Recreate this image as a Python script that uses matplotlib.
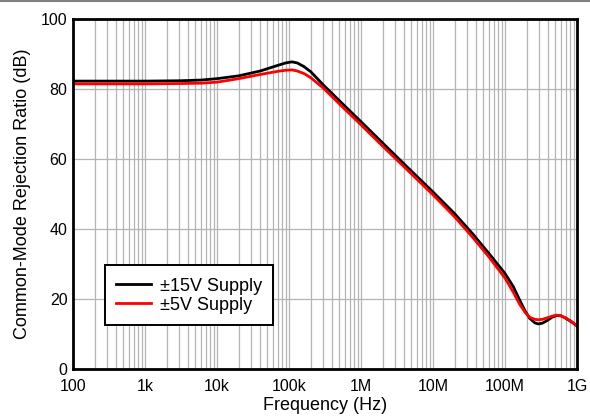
import matplotlib.pyplot as plt
from matplotlib.lines import Line2D
from matplotlib.ticker import FixedLocator, LogLocator, NullFormatter

plt.rcParams['font.family'] = ['Liberation Sans', 'DejaVu Sans']

# CMRR data (frequency in Hz, CMRR in dB)
freq_15v = [1e2, 1e3, 3e3, 6e3, 1e4, 2e4, 4e4, 7e4, 9e4, 1.1e5, 1.3e5, 1.6e5, 2e5, 3e5, 5e5,
            1e6, 2e6, 5e6, 1e7, 2e7, 3.5e7, 6e7, 1e8, 1.3e8, 1.6e8, 1.9e8, 2.2e8,
            2.6e8, 2.9e8, 3.3e8, 3.8e8, 4.5e8, 5.2e8, 6e8, 7e8, 8.5e8, 1e9]
cmrr_15v = [82.3, 82.3, 82.4, 82.6, 83.0, 83.8, 85.2, 86.8, 87.5, 87.8, 87.5, 86.5, 85.0, 81.2, 76.7,
            70.7, 64.6, 56.6, 50.6, 44.4, 38.8, 33.0, 27.3, 23.6, 19.7, 16.6, 14.5,
            13.2, 12.9, 13.1, 13.8, 14.8, 15.3, 15.2, 14.5, 13.4, 12.3]

freq_5v = [1e2, 1e3, 3e3, 6e3, 1e4, 2e4, 4e4, 7e4, 9e4, 1.1e5, 1.3e5, 1.6e5, 2e5, 3e5, 5e5,
           1e6, 2e6, 5e6, 1e7, 2e7, 3.5e7, 6e7, 1e8, 1.3e8, 1.6e8, 1.9e8, 2.2e8,
           2.6e8, 2.9e8, 3.3e8, 3.8e8, 4.5e8, 5.2e8, 6e8, 7e8, 8.5e8, 1e9]
cmrr_5v = [81.5, 81.5, 81.6, 81.7, 82.0, 83.0, 84.2, 85.1, 85.4, 85.5, 85.2, 84.5, 83.3, 80.3, 75.8,
           69.8, 63.7, 55.8, 49.8, 43.5, 37.8, 32.0, 26.0, 22.0, 18.5, 16.2, 14.8,
           14.2, 14.1, 14.2, 14.6, 15.1, 15.4, 15.2, 14.6, 13.5, 12.3]

x_ticks = [1e2, 1e3, 1e4, 1e5, 1e6, 1e7, 1e8, 1e9]
x_tick_labels = ['100', '1k', '10k', '100k', '1M', '10M', '100M', '1G']
y_ticks = [0, 20, 40, 60, 80, 100]

fig = plt.figure(figsize=(5.9, 4.17), dpi=100)
ax = fig.add_axes([0.1237, 0.115, 0.8543, 0.839])

ax.semilogx(freq_15v, cmrr_15v, color='black', lw=2.0, label='±15V Supply', zorder=3)
ax.semilogx(freq_5v, cmrr_5v, color='#ff0000', lw=2.0, label='±5V Supply', zorder=4)

ax.set_xlim(1e2, 1e9)
ax.set_ylim(0, 100)
ax.xaxis.set_major_locator(FixedLocator(x_ticks))
ax.set_xticklabels(x_tick_labels)
ax.xaxis.set_minor_locator(LogLocator(base=10, subs=range(2, 10), numticks=20))
ax.xaxis.set_minor_formatter(NullFormatter())
ax.set_yticks(y_ticks)

ax.grid(True, which='major', color='#b4b4b4', lw=0.9)
ax.grid(True, which='minor', axis='x', color='#b4b4b4', lw=0.9)
ax.tick_params(which='both', length=0, labelsize=11.5)
ax.tick_params(axis='x', pad=7)
ax.tick_params(axis='y', pad=4)

for sp in ax.spines.values():
    sp.set_linewidth(2.0)
    sp.set_zorder(5)

ax.set_xlabel('Frequency (Hz)', fontsize=13, labelpad=2)
ax.set_ylabel('Common-Mode Rejection Ratio (dB)', fontsize=13, labelpad=7)

leg = ax.legend(loc='upper left', bbox_to_anchor=(0.063, 0.297), borderaxespad=0,
                fancybox=False, framealpha=1, edgecolor='black', fontsize=13,
                handlelength=1.95, handleheight=1.15, handletextpad=0.5,
                labelspacing=0.0, borderpad=0.6)
leg.get_frame().set_linewidth(1.4)

# thin gray rule along the top of the picture
fig.add_artist(Line2D([0, 1], [0.997, 0.997], color='#808080', lw=1.5))

fig.savefig('out.png', dpi=100)
